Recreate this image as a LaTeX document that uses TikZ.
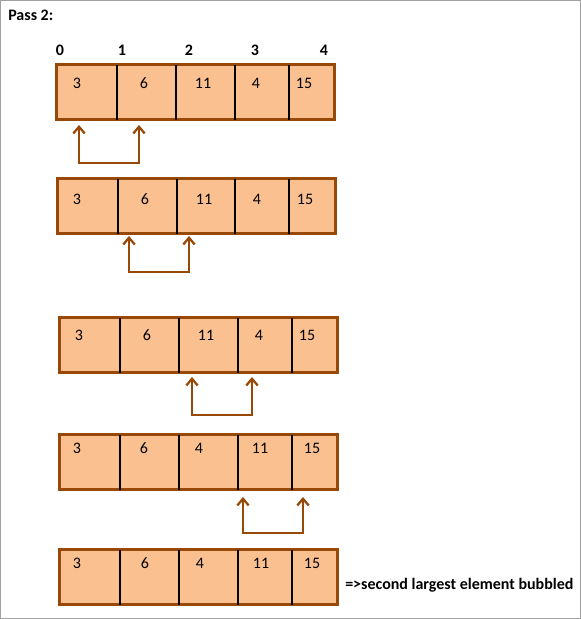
\documentclass[tikz,border=0pt]{standalone}
\usepackage{fontspec}
\setmainfont{Carlito}
\usetikzlibrary{arrows.meta}
\definecolor{cellfill}{HTML}{FAC090}
\definecolor{cellline}{HTML}{984807}
\definecolor{framegray}{HTML}{A0A0A0}

\begin{document}
\begin{tikzpicture}[
  x=0.75pt, y=-0.75pt,
  every node/.style={font=\fontsize{12}{14}\selectfont, inner sep=0pt},
  array/.style={draw=cellline, fill=cellfill, line width=2.6pt, rectangle, anchor=north west, minimum width=#1, minimum height=41.25pt},
  divline/.style={black, line width=0.8pt, shorten >=1.3pt, shorten <=1.3pt},
  idx/.style={font=\fontsize{12}{14}\selectfont\bfseries},
  swaparrow/.style={draw=cellline, line width=1.7pt, {Straight Barb[length=5pt,width=8.5pt]}-{Straight Barb[length=5pt,width=8.5pt]}}
]
\useasboundingbox (0,0) rectangle (581,619);
\draw[framegray, line width=0.9pt] (0.6,0.6) rectangle (580.4,618.4);

\node[idx, anchor=west] (title) at (8,15) {Pass 2:};
\foreach \v/\x in {0/60,1/122,2/189,3/255,4/324}
  \node[idx] (idx\v) at (\x,50) {\v};

% array 1
\node[array=208.5pt] (r1) at (55,63) {};
\foreach \x in {117,176,235,289}
  \draw[divline] (r1.north -| \x,0) -- (r1.south -| \x,0);
\foreach \v/\x [count=\i] in {3/77,6/144,11/203,4/256,15/304}
  \node (a1n\i) at (\x,83) {\v};
\coordinate (s1a) at (79,125);
\coordinate (s1b) at (139,125);
\draw[swaparrow] (s1a) -- ++(0,38) -| (s1b);

% array 2
\node[array=208.5pt] (r2) at (56,177) {};
\foreach \x in {118,177,235,289}
  \draw[divline] (r2.north -| \x,0) -- (r2.south -| \x,0);
\foreach \v/\x [count=\i] in {3/77,6/145,11/204,4/257,15/305}
  \node (a2n\i) at (\x,199) {\v};
\coordinate (s2a) at (129,236);
\coordinate (s2b) at (189,236);
\draw[swaparrow] (s2a) -- ++(0,36) -| (s2b);

% array 3
\node[array=208.5pt] (r3) at (58,316) {};
\foreach \x in {120,179,238,292}
  \draw[divline] (r3.north -| \x,0) -- (r3.south -| \x,0);
\foreach \v/\x [count=\i] in {3/79,6/147,11/206,4/259,15/307}
  \node (a3n\i) at (\x,335) {\v};
\coordinate (s3a) at (192,377);
\coordinate (s3b) at (252,377);
\draw[swaparrow] (s3a) -- ++(0,38) -| (s3b);

% array 4
\node[array=208.5pt] (r4) at (58,433) {};
\foreach \x in {120,179,238,292}
  \draw[divline] (r4.north -| \x,0) -- (r4.south -| \x,0);
\foreach \v/\x [count=\i] in {3/77,6/144,4/199,11/260,15/312}
  \node (a4n\i) at (\x,448) {\v};
\coordinate (s4a) at (243,497);
\coordinate (s4b) at (303,497);
\draw[swaparrow] (s4a) -- ++(0,36) -| (s4b);

% array 5
\node[array=208.5pt] (r5) at (58,548) {};
\foreach \x in {120,179,238,292}
  \draw[divline] (r5.north -| \x,0) -- (r5.south -| \x,0);
\foreach \v/\x [count=\i] in {3/77,6/145,4/200,11/261,15/312}
  \node (a5n\i) at (\x,563) {\v};

\node[idx, anchor=west] (note) at (345,585) {=>second largest element bubbled};
\end{tikzpicture}
\end{document}
